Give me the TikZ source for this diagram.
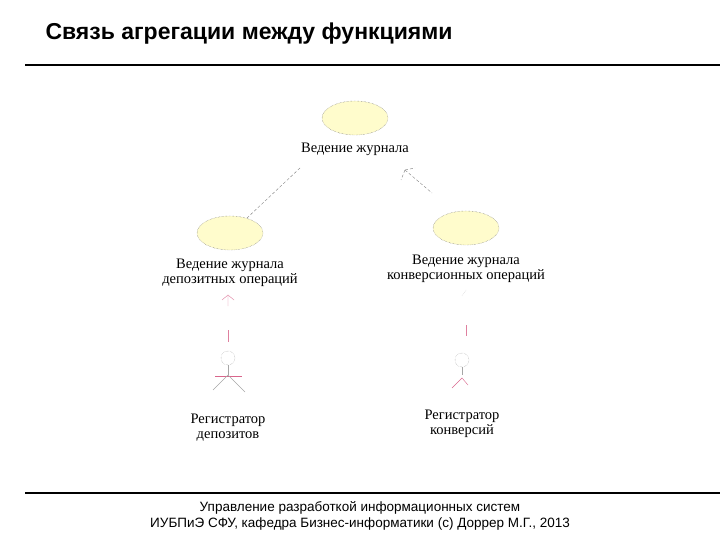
\documentclass[tikz,border=0pt]{standalone}
\usepackage{fontspec}
\usetikzlibrary{shapes.geometric}
\setmainfont{Liberation Serif}
\newfontfamily\sansf{Liberation Sans}
\begin{document}
\begin{tikzpicture}[x=1pt,y=-1pt,
  uc/.style={ellipse,draw=gray!80!black,densely dotted,fill=yellow!20,minimum width=66pt,minimum height=34pt,inner sep=0pt},
  lbl/.style={font=\fontsize{14.5}{15}\selectfont,align=center},
  agg/.style={draw=gray,densely dashed,thin},
  act/.style={draw=gray!70,thin}]
\path[use as bounding box] (0,0) rectangle (720,540);
\node[anchor=west,font=\sansf\bfseries\fontsize{23}{26}\selectfont] (title) at (42,34) {Связь агрегации между функциями};
\draw[line width=1.2pt] (25,65) -- (720,65);
\draw[line width=1.2pt] (25,493) -- (720,493);
\node[font=\sansf\fontsize{13.5}{16.5}\selectfont,align=center] (foot) at (360,516) {Управление разработкой информационных систем\\ИУБПиЭ СФУ, кафедра Бизнес-информатики (c) Доррер М.Г., 2013};
\node[uc] (u1) at (355,118) {};
\node[lbl] (t1) at (355,149) {Ведение журнала};
\node[uc] (u2) at (230,233) {};
\node[lbl] (t2) at (230,273) {Ведение журнала\\депозитных операций};
\node[uc] (u3) at (466,228) {};
\node[lbl] (t3) at (466,269) {Ведение журнала\\конверсионных операций};
\coordinate (a1) at (300,168); \coordinate (a2) at (247,218);
\coordinate (b1) at (405,170); \coordinate (b2) at (432,193);
\draw[agg] (a1) -- (a2);
\draw[agg] (b1) -- (b2);
\draw[agg] (b1) -- ++(-4,10) (b1) -- ++(10,-2);
% left actor
\node[circle,draw=gray!80,densely dotted,minimum size=14pt] (h1) at (228,358) {};
\draw[act] (h1.south) -- (228,375);
\draw[purple!60,thin] (215,376) -- (242,376);
\draw[act] (228,375) -- (213,390) (228,375) -- (245,392);
\node[lbl] (r1) at (228,428) {Регистратор\\депозитов};
% right actor
\node[circle,draw=gray!80,densely dotted,minimum size=14pt] (h2) at (462,360) {};
\draw[act] (h2.south) -- (462,375);
\draw[purple!60,thin] (452,388) -- (462,378) -- (468,385);
\node[lbl] (r2) at (462,424) {Регистратор\\конверсий};
\draw[purple!50,thin] (228,296) -- (228,306) (222,300) -- (228,295) -- (234,300);
\draw[purple!50,thin] (228,330) -- (228,342);
\draw[purple!50,thin] (466,325) -- (466,336);
\draw[gray!50,densely dotted] (466,290) -- (462,296);
\end{tikzpicture}
\end{document}
